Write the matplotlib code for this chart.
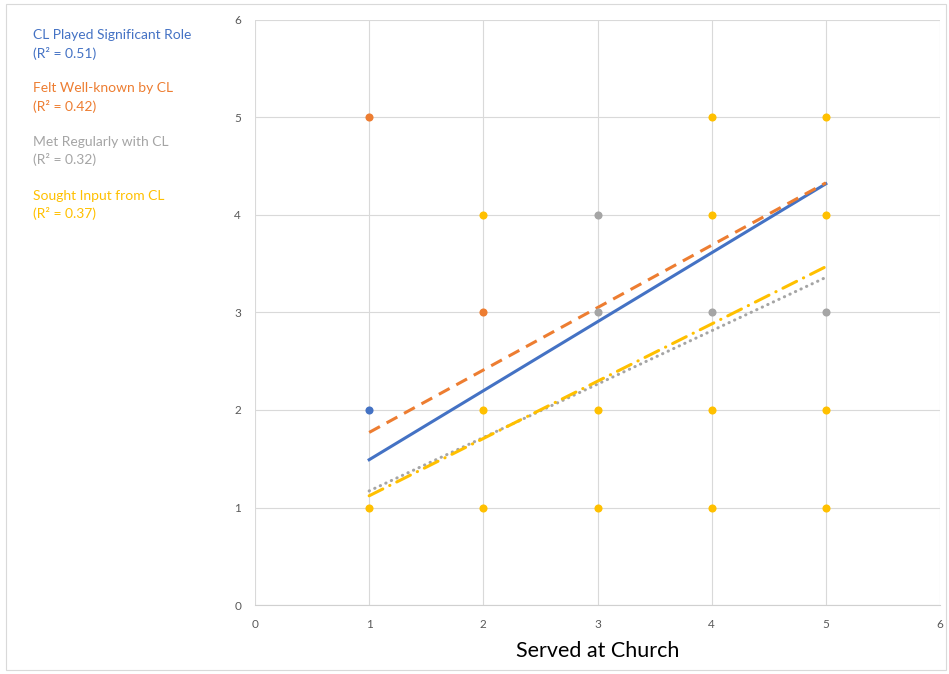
"""
Scatter of church service vs. CL relationship items, with linear trend lines.
"""

import matplotlib.pyplot as plt
from matplotlib.patches import Rectangle

plt.rcParams['font.family'] = ['Lato', 'DejaVu Sans']

# points per series (x = Served at Church, y = rating)
blue_x = [1]
blue_y = [2]
orange_x = [1, 2]
orange_y = [5, 3]
gray_x = [3, 3, 4, 5]
gray_y = [4, 3, 3, 3]
yellow_x = [1, 2, 2, 2, 3, 3, 4, 4, 4, 4, 5, 5, 5, 5]
yellow_y = [1, 4, 2, 1, 2, 1, 5, 4, 2, 1, 5, 4, 2, 1]

# trend line ends (at x = 1 and x = 5)
trend_x = [1, 5]
blue_trend = [1.49, 4.32]
orange_trend = [1.77, 4.33]
gray_trend = [1.17, 3.36]
yellow_trend = [1.12, 3.47]

names = ['CL Played Significant Role', 'Felt Well-known by CL',
         'Met Regularly with CL', 'Sought Input from CL']
r2 = ['0.51', '0.42', '0.32', '0.37']
colors = ['#4472C4', '#ED7D31', '#A5A5A5', '#FFC000']


def main():
    fig = plt.figure(figsize=(9.49, 6.74), dpi=100)
    # outer chart border
    fig.patches.append(Rectangle((6 / 949, 4 / 674), 940 / 949, 666 / 674,
                                 transform=fig.transFigure, fill=False,
                                 edgecolor='#D9D9D9', lw=0.8))

    ax = fig.add_axes([255 / 949, 1 - 605 / 674, 685 / 949, 585 / 674])

    ax.plot(trend_x, blue_trend, color=colors[0], lw=2.2, zorder=3)
    ax.plot(trend_x, orange_trend, color=colors[1], lw=2.2,
            linestyle=(0, (4, 2.5)), zorder=3)
    ax.plot(trend_x, gray_trend, color=colors[2], lw=2.2,
            linestyle=(0, (0.1, 1.9)), dash_capstyle='round', zorder=3)
    ax.plot(trend_x, yellow_trend, color=colors[3], lw=2.2,
            linestyle=(0, (5, 2.5, 0.1, 2.5)), dash_capstyle='round', zorder=3)

    for xs, ys, c in [(blue_x, blue_y, colors[0]), (orange_x, orange_y, colors[1]),
                      (gray_x, gray_y, colors[2]), (yellow_x, yellow_y, colors[3])]:
        ax.scatter(xs, ys, s=34, color=c, zorder=4, linewidths=0)

    ax.set_xlim(0, 6)
    ax.set_ylim(0, 6)
    ax.set_xticks(range(7))
    ax.set_yticks(range(7))
    ax.grid(True, color='#D9D9D9', lw=0.8)
    ax.set_axisbelow(True)
    for side in ['top', 'right', 'left']:
        ax.spines[side].set_visible(False)
    ax.spines['bottom'].set_color('#D0D0D0')
    ax.tick_params(length=0, labelsize=8.5, labelcolor='#595959', pad=10)
    ax.set_xlabel('Served at Church', fontsize=15.5, labelpad=8)

    y0 = 35
    for i in range(4):
        fig.text(33 / 949, 1 - (y0 + i * 53.5) / 674, names[i], color=colors[i],
                 fontsize=10, va='center')
        fig.text(33 / 949, 1 - (y0 + 18 + i * 53.5) / 674,
                 '(R² = ' + r2[i] + ')', color=colors[i],
                 fontsize=10, va='center')

    fig.savefig('out.png', dpi=100)


if __name__ == '__main__':
    main()
